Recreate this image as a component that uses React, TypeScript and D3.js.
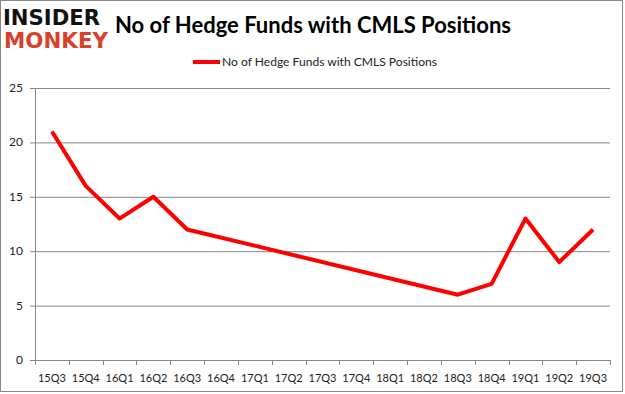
import * as d3 from 'd3'
import { useEffect, useRef } from 'react'

const quarters = [
  '15Q3', '15Q4', '16Q1', '16Q2', '16Q3', '16Q4', '17Q1', '17Q2', '17Q3',
  '17Q4', '18Q1', '18Q2', '18Q3', '18Q4', '19Q1', '19Q2', '19Q3',
]
// quarters without a reading are left empty; the line just joins across them
const funds: (number | null)[] = [
  21, 16, 13, 15, 12, null, null, null, null, null, null, null, 6, 7, 13, 9, 12,
]
const yTicks = [0, 5, 10, 15, 20, 25]
const seriesName = 'No of Hedge Funds with CMLS Positions'
const title = 'No of Hedge Funds with CMLS Positions'

const W = 625
const H = 394

const App = () => {
  const ref = useRef<SVGSVGElement>(null)

  useEffect(() => {
    const svg = d3.select(ref.current)
    svg.selectAll('*').remove()

    const font = 'Lato, "Liberation Sans", sans-serif'
    const left = 35
    const right = 610
    const top = 88
    const bottom = 360

    svg.append('rect')
      .attr('x', 0.5).attr('y', 0.5)
      .attr('width', W - 3).attr('height', H - 3)
      .attr('fill', '#fff').attr('stroke', '#868686')

    // logo
    svg.append('text')
      .attr('x', 3).attr('y', 25)
      .attr('textLength', 97).attr('lengthAdjust', 'spacingAndGlyphs')
      .style('font-family', '"DejaVu Sans", sans-serif').style('font-weight', 900)
      .style('font-size', '21px').attr('fill', '#111')
      .text('INSIDER')
    svg.append('text')
      .attr('x', 4).attr('y', 48)
      .attr('textLength', 104).attr('lengthAdjust', 'spacingAndGlyphs')
      .style('font-family', '"DejaVu Sans", sans-serif').style('font-weight', 900)
      .style('font-size', '21px').attr('fill', '#d9402b')
      .text('MONKEY')

    svg.append('text')
      .attr('x', 115).attr('y', 33)
      .attr('textLength', 396).attr('lengthAdjust', 'spacingAndGlyphs')
      .style('font-family', font).style('font-weight', 700)
      .style('font-size', '22px').attr('fill', '#000')
      .text(title)

    // legend
    svg.append('line')
      .attr('x1', 193).attr('x2', 220).attr('y1', 62).attr('y2', 62)
      .attr('stroke', '#ff0000').attr('stroke-width', 4)
    svg.append('text')
      .attr('x', 222).attr('y', 66)
      .attr('textLength', 215).attr('lengthAdjust', 'spacingAndGlyphs')
      .style('font-family', font).style('font-size', '12px').attr('fill', '#222')
      .text(seriesName)

    const x = d3.scaleBand<string>().domain(quarters).range([left, right])
    const y = d3.scaleLinear().domain([0, 25]).range([bottom, top])

    // grid + y ticks
    const g = svg.append('g')
    g.selectAll('line.grid')
      .data(yTicks)
      .join('line')
      .attr('x1', left - 5).attr('x2', right)
      .attr('y1', (d) => y(d) + 0.5).attr('y2', (d) => y(d) + 0.5)
      .attr('stroke', '#868686').attr('stroke-width', 1)
    g.selectAll('text.ylab')
      .data(yTicks)
      .join('text')
      .attr('x', left - 12).attr('y', (d) => y(d) + 4)
      .attr('text-anchor', 'end')
      .style('font-family', font).style('font-size', '12px').attr('fill', '#222')
      .text((d) => d)

    svg.append('line')
      .attr('x1', left + 0.5).attr('x2', left + 0.5)
      .attr('y1', top).attr('y2', bottom)
      .attr('stroke', '#868686')

    // x axis ticks at band edges
    const edges = quarters.map((q) => x(q) as number).concat([right])
    svg.append('g').selectAll('line')
      .data(edges)
      .join('line')
      .attr('x1', (d) => Math.round(d) + 0.5).attr('x2', (d) => Math.round(d) + 0.5)
      .attr('y1', bottom).attr('y2', bottom + 5)
      .attr('stroke', '#868686')
    svg.append('g').selectAll('text')
      .data(quarters)
      .join('text')
      .attr('x', (d) => (x(d) as number) + x.bandwidth() / 2)
      .attr('y', bottom + 22)
      .attr('text-anchor', 'middle')
      .style('font-family', font).style('font-size', '11px').attr('fill', '#222')
      .text((d) => d)

    // series
    const pts = quarters
      .map((q, i) => ({ q, v: funds[i] }))
      .filter((d) => d.v !== null) as { q: string; v: number }[]
    const line = d3.line<{ q: string; v: number }>()
      .x((d) => (x(d.q) as number) + x.bandwidth() / 2)
      .y((d) => y(d.v))
    svg.append('path')
      .datum(pts)
      .attr('d', line)
      .attr('fill', 'none')
      .attr('stroke', '#ff0000')
      .attr('stroke-width', 4)
      .attr('stroke-linejoin', 'round')
  }, [])

  return (
    <div style={{ position: 'absolute', left: 0, top: 0 }}>
      <svg ref={ref} width={W} height={H} style={{ display: 'block' }}></svg>
    </div>
  )
}

export default App
